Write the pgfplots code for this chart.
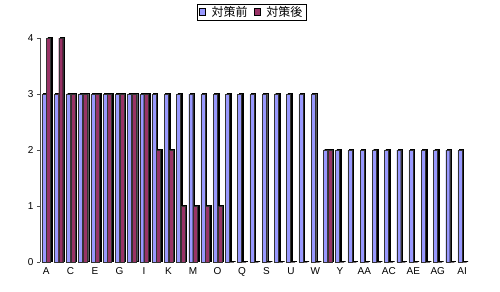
\documentclass[border=0pt]{standalone}
\usepackage{pgfplots}
\pgfplotsset{compat=1.18}
\usepackage{fontspec}
\setmainfont{Liberation Sans}
\newfontfamily\cjk{Noto Sans CJK JP}
\definecolor{cbefore}{HTML}{9999FF}
\definecolor{cafter}{HTML}{993366}
\begin{document}
\begin{tikzpicture}
\begin{axis}[
  scale only axis,
  width=432bp, height=224bp,
  xmin=-0.5, xmax=34.8,
  ymin=0, ymax=4,
  axis y line*=left,
  axis x line*=bottom,
  x axis line style={draw=none},
  y axis line style={draw=black!70, line width=0.6pt},
  ytick={0,1,2,3,4},
  ytick style={draw=black!70, line width=0.6pt},
  tick align=outside,
  major tick length=3bp,
  xtick={0,2,...,34},
  xticklabels={A,C,E,G,I,K,M,O,Q,S,U,W,Y,AA,AC,AE,AG,AI},
  x tick style={draw=none},
  tick label style={font=\fontsize{10bp}{11bp}\selectfont},
  /pgf/number format/assume math mode=true,
  xticklabel style={yshift=1bp},
  legend columns=2,
  legend style={at={(0.49,1)}, anchor=south, yshift=17bp,
    font=\cjk\fontsize{12bp}{13bp}\selectfont, draw=black, line width=0.6pt,
    inner xsep=2bp, inner ysep=0.5bp, column sep=4bp},
  legend image code/.code={\draw[#1, draw=black, line width=0.5pt] (0cm,-0.1cm) rectangle (0.22cm,0.14cm);},
  clip=false,
]
% shadows
\addplot[ybar, bar width=4.2bp, bar shift=-0.8bp, fill=black, draw=black, line width=0.3pt, forget plot, yshift=0.9bp] coordinates {
(0,3)(1,3)(2,3)(3,3)(4,3)(5,3)(6,3)(7,3)(8,3)(9,3)(10,3)(11,3)(12,3)(13,3)(14,3)(15,3)(16,3)(17,3)(18,3)(19,3)(20,3)(21,3)(22,3)
(23,2)(24,2)(25,2)(26,2)(27,2)(28,2)(29,2)(30,2)(31,2)(32,2)(33,2)(34,2)};
\addplot[ybar, bar width=4.2bp, bar shift=3.8bp, fill=black, draw=black, line width=0.3pt, forget plot, yshift=0.9bp] coordinates {
(0,4)(1,4)(2,3)(3,3)(4,3)(5,3)(6,3)(7,3)(8,3)(9,2)(10,2)(11,1)(12,1)(13,1)(14,1)(15,0)(16,0)(17,0)(18,0)(19,0)(20,0)(21,0)(22,0)
(23,2)(24,0)(25,0)(26,0)(27,0)(28,0)(29,0)(30,0)(31,0)(32,0)(33,0)(34,0)};
% bars
\addplot[ybar, bar width=4.0bp, bar shift=-2.3bp, fill=cbefore, draw=black!80, line width=0.3pt] coordinates {
(0,3)(1,3)(2,3)(3,3)(4,3)(5,3)(6,3)(7,3)(8,3)(9,3)(10,3)(11,3)(12,3)(13,3)(14,3)(15,3)(16,3)(17,3)(18,3)(19,3)(20,3)(21,3)(22,3)
(23,2)(24,2)(25,2)(26,2)(27,2)(28,2)(29,2)(30,2)(31,2)(32,2)(33,2)(34,2)};
\addlegendentry{対策前}
\addplot[ybar, bar width=4.0bp, bar shift=2.3bp, fill=cafter, draw=black!80, line width=0.3pt] coordinates {
(0,4)(1,4)(2,3)(3,3)(4,3)(5,3)(6,3)(7,3)(8,3)(9,2)(10,2)(11,1)(12,1)(13,1)(14,1)(15,0)(16,0)(17,0)(18,0)(19,0)(20,0)(21,0)(22,0)
(23,2)(24,0)(25,0)(26,0)(27,0)(28,0)(29,0)(30,0)(31,0)(32,0)(33,0)(34,0)};
\addlegendentry{対策後}
\end{axis}
\path ([xshift=-40bp,yshift=-30bp]current axis.south west) ([xshift=28bp,yshift=38bp]current axis.north east);
\end{tikzpicture}
\end{document}
